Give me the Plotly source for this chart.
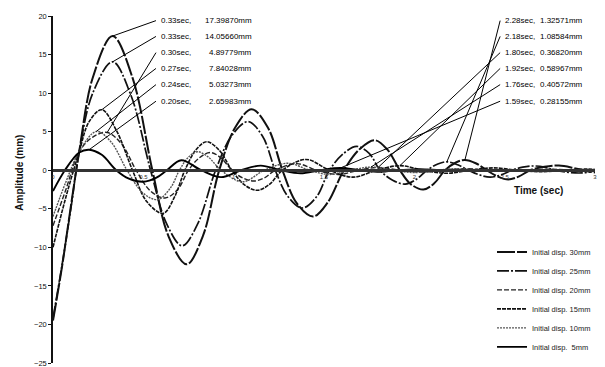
import plotly.graph_objects as go

# ---------------- data ----------------
t30 = [0, 0.05, 0.10, 0.145, 0.22, 0.33, 0.44, 0.55, 0.64, 0.74, 0.83, 0.92, 1.01, 1.10, 1.19, 1.27,
       1.35, 1.44, 1.52, 1.61, 1.70, 1.78, 1.85, 1.92, 1.98, 2.05, 2.11, 2.17, 2.23, 2.28, 2.34,
       2.40, 2.46, 2.52, 2.58, 2.64, 2.72, 2.80, 2.88, 2.95, 3.0]
y30 = [-19.5, -12.5, -4.5, 2.4, 12.0, 17.4, 12.0, 0, -8.6, -12.2, -8.5, 0, 5.6, 7.9, 5.5, 0,
       -4.3, -6.0, -4.2, 0, 2.8, 3.9, 2.7, 0, -1.8, -2.5, -1.7, 0, 1.0, 1.33, 0.9,
       0, -0.8, -1.2, -0.8, 0, 0.45, 0.6, 0.3, -0.1, -0.3]

t25 = [0, 0.05, 0.10, 0.145, 0.22, 0.33, 0.43, 0.54, 0.63, 0.715, 0.80, 0.90, 0.99, 1.08, 1.16,
       1.23, 1.30, 1.38, 1.46, 1.53, 1.61, 1.68, 1.75, 1.81, 1.88, 1.95, 2.01, 2.07, 2.13, 2.18,
       2.24, 2.30, 2.36, 2.42, 2.48, 2.54, 2.60, 2.66, 2.72, 2.78, 2.86, 2.93, 3.0]
y25 = [-19.2, -12.3, -4.8, 2.4, 10.0, 14.06, 9.8, 0, -7.0, -9.8, -7.0, 0, 4.5, 6.3, 4.4,
       0, -3.4, -4.9, -3.4, 0, 2.2, 3.1, 2.2, 0, -1.3, -1.8, -1.2, 0, 0.8, 1.09,
       0.7, 0, -0.6, -0.9, -0.6, 0, 0.4, 0.55, 0.4, 0, -0.3, -0.35, -0.1]

t20 = [0, 0.07, 0.145, 0.22, 0.30, 0.38, 0.46, 0.54, 0.62, 0.69, 0.75, 0.81, 0.87, 0.93, 0.99,
       1.05, 1.11, 1.17, 1.23, 1.35, 1.46, 1.58, 1.69, 1.80, 1.92, 2.04, 2.16, 2.28, 2.40, 2.52,
       2.64, 2.76, 2.88, 3.0]
y20 = [-7.2, -2.6, 2.4, 4.3, 4.9, 3.4, 0, -2.7, -3.6, -2.5, 0, 1.6, 2.3, 1.6, 0,
       -1.0, -1.4, -1.0, 0, 0.85, 0, -0.55, 0, 0.37, 0, -0.25, 0, 0.2, 0, -0.15,
       0, 0.12, 0, -0.1]

t15 = [0, 0.07, 0.145, 0.20, 0.27, 0.35, 0.44, 0.52, 0.61, 0.67, 0.73, 0.79, 0.85, 0.92, 0.99,
       1.06, 1.13, 1.20, 1.27, 1.40, 1.53, 1.66, 1.79, 1.92, 2.05, 2.18, 2.31, 2.44, 2.57, 2.70,
       2.83, 2.96, 3.0]
y15 = [-10.0, -3.6, 2.4, 6.3, 7.84, 5.2, 0, -4.1, -5.6, -3.6, 0, 2.6, 3.7, 2.6, 0,
       -1.9, -2.6, -1.8, 0, 1.4, 0, -0.9, 0, 0.59, 0, -0.4, 0, 0.3, 0, -0.2,
       0, 0.15, 0.1]

t10 = [0, 0.07, 0.145, 0.24, 0.32, 0.41, 0.50, 0.58, 0.65, 0.70, 0.75, 0.80, 0.86, 0.93, 1.05,
       1.17, 1.30, 1.42, 1.53, 1.65, 1.76, 1.88, 2.0, 2.12, 2.24, 2.36, 2.48, 2.60, 2.72, 2.84,
       2.96, 3.0]
y10 = [-6.0, -1.6, 2.4, 5.03, 3.7, 0, -3.0, -3.8, -2.3, 0, 1.7, 2.4, 1.7, 0, -1.5,
       0, 0.9, 0, -0.55, 0, 0.41, 0, -0.3, 0, 0.2, 0, -0.15, 0, 0.1, 0,
       -0.05, 0]

t5 = [0, 0.066, 0.145, 0.20, 0.27, 0.35, 0.42, 0.50, 0.57, 0.63, 0.71, 0.82, 0.93, 1.04, 1.15,
      1.26, 1.37, 1.48, 1.59, 1.70, 1.81, 1.92, 2.03, 2.14, 2.25, 2.4, 2.6, 2.8, 3.0]
y5 = [-2.7, 0, 2.3, 2.66, 2.0, 0, -1.1, -1.5, -1.0, 0, 1.3, 0, -0.9, 0, 0.6,
      0, -0.4, 0, 0.28, 0, -0.2, 0, 0.12, 0, -0.08, 0, 0.05, 0, 0]

series_names = ["Initial disp. 30mm", "Initial disp. 25mm", "Initial disp. 20mm",
                "Initial disp. 15mm", "Initial disp. 10mm", "Initial disp.  5mm"]

peak1_t = [0.33, 0.33, 0.30, 0.27, 0.24, 0.20]
peak1_mm = [17.39870, 14.05660, 4.89779, 7.84028, 5.03273, 2.65983]
peak2_t = [2.28, 2.18, 1.80, 1.92, 1.76, 1.59]
peak2_mm = [1.32571, 1.08584, 0.36820, 0.58967, 0.40572, 0.28155]

x_ticks = [0, 0.5, 1, 1.5, 2, 2.5, 3]
y_ticks = [20, 15, 10, 5, 0, -5, -10, -15, -20, -25]

# ---------------- styling ----------------
FONT = "Liberation Sans, Arial, sans-serif"
styles = [
    dict(color="#111111", width=2.0, dash="18px,2px"),
    dict(color="#111111", width=1.7, dash="12px,2px,2px,2px"),
    dict(color="#222222", width=1.4, dash="5px,2px"),
    dict(color="#111111", width=1.6, dash="4px,1px"),
    dict(color="#555555", width=1.4, dash="2px,1px"),
    dict(color="#000000", width=1.9, dash="solid"),
]

fig = go.Figure()
all_t = [t30, t25, t20, t15, t10, t5]
all_y = [y30, y25, y20, y15, y10, y5]
for name, tt, yy, st in zip(series_names, all_t, all_y, styles):
    fig.add_trace(go.Scatter(
        x=tt, y=yy, mode="lines", name=name,
        line=dict(shape="spline", smoothing=1.0, **st),
    ))

# label rows (layout positions, in data units)
row_y = [19.4, 17.35, 15.25, 13.2, 11.1, 8.95]
left_tail_x, left_time_x, left_val_x = 0.57, 0.585, 1.11
right_tail_x, right_time_x, right_val_x = 2.475, 2.49, 2.945

ann = []
shapes = []
lab_font = dict(family=FONT, size=8, color="#000")
for ry, pt, pv in zip(row_y, peak1_t, peak1_mm):
    shapes.append(dict(type="line", xref="x", yref="y", x0=left_tail_x, y0=ry, x1=pt, y1=pv,
                       line=dict(color="#000", width=1)))
    ann.append(dict(x=left_time_x, y=ry, xref="x", yref="y", text=f"{pt:.2f}sec,",
                    showarrow=False, xanchor="left", yanchor="middle", font=lab_font))
    ann.append(dict(x=left_val_x, y=ry, xref="x", yref="y", text=f"{pv:.5f}mm",
                    showarrow=False, xanchor="right", yanchor="middle", font=lab_font))
for ry, pt, pv in zip(row_y, peak2_t, peak2_mm):
    shapes.append(dict(type="line", xref="x", yref="y", x0=right_tail_x, y0=ry, x1=pt, y1=pv,
                       line=dict(color="#000", width=1)))
    ann.append(dict(x=right_time_x, y=ry, xref="x", yref="y", text=f"{pt:.2f}sec,",
                    showarrow=False, xanchor="left", yanchor="middle", font=lab_font))
    ann.append(dict(x=right_val_x, y=ry, xref="x", yref="y", text=f"{pv:.5f}mm",
                    showarrow=False, xanchor="right", yanchor="middle", font=lab_font))

ann.append(dict(x=-0.075, y=0.548, xref="paper", yref="paper", text="<b>Amplitude (mm)</b>",
                textangle=-90, showarrow=False, font=dict(family=FONT, size=10, color="#111")))
ann.append(dict(x=0.945, y=0.497, xref="paper", yref="paper", text="<b>Time (sec)</b>",
                showarrow=False, font=dict(family=FONT, size=10, color="#111")))

# The page body adds an 8px offset, so the figure is 8px smaller on each axis.
fig.update_layout(
    width=597, height=359,
    margin=dict(l=45, r=10, t=8, b=4, autoexpand=False),
    paper_bgcolor="white", plot_bgcolor="white",
    showlegend=True,
    legend=dict(x=0.81, y=0.362, xanchor="left", yanchor="top",
                font=dict(family=FONT, size=7.5, color="#222"),
                bgcolor="rgba(0,0,0,0)", tracegroupgap=0, itemwidth=30),
    annotations=ann, shapes=shapes,
    xaxis=dict(range=[0, 3], tickvals=x_ticks, ticktext=[str(v) for v in x_ticks],
               showgrid=False, zeroline=False, showline=True, linecolor="#333", linewidth=2.5,
               anchor="free", position=25 / 45, ticks="", automargin=False,
               tickfont=dict(family=FONT, size=6, color="#333")),
    yaxis=dict(range=[-25, 20], tickvals=y_ticks, showgrid=False, zeroline=False, automargin=False,
               showline=True, linecolor="#111", linewidth=1.5, ticks="outside", ticklen=3,
               ticklabeloverflow="allow",
               tickcolor="#111", tickfont=dict(family=FONT, size=7.5, color="#111")),
)

fig.write_html("out.html")
